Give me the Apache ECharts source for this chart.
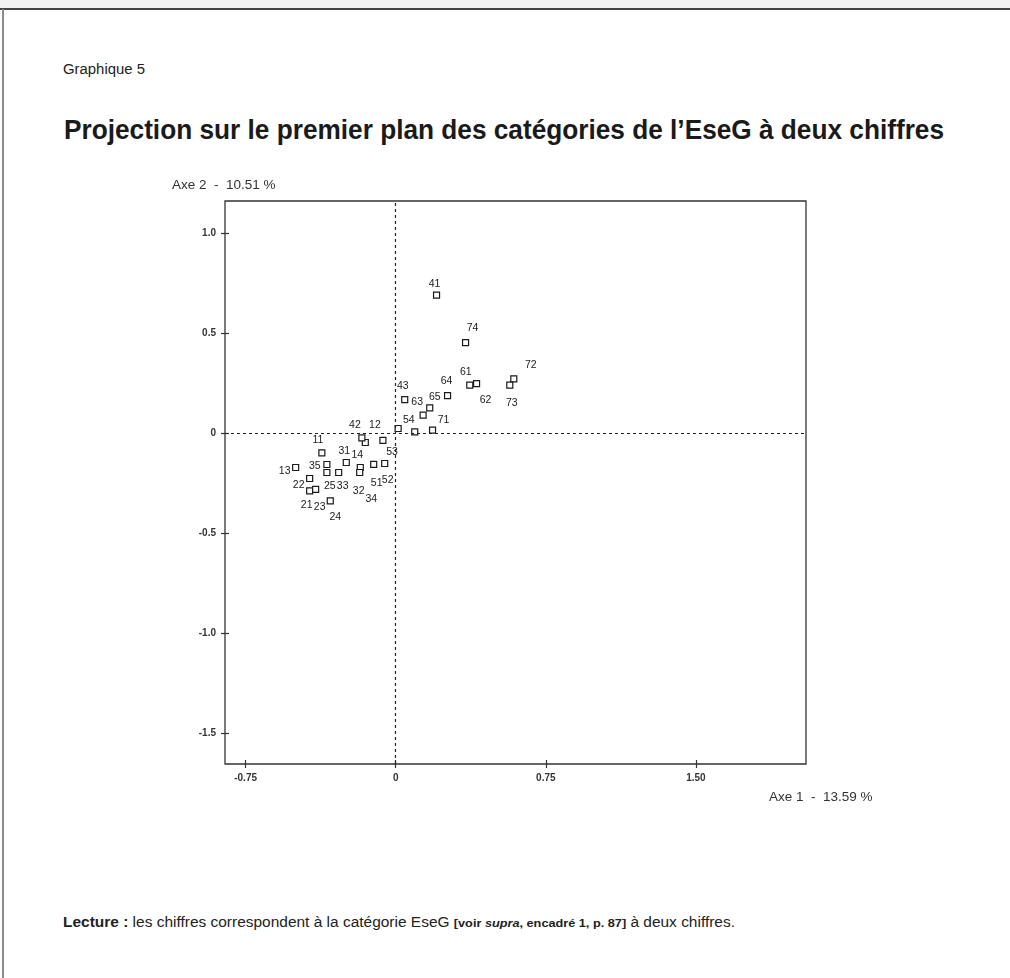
<!DOCTYPE html>
<html>
<head>
<meta charset="utf-8">
<script src="https://cdn.jsdelivr.net/npm/echarts@6/dist/echarts.min.js"></script>
<style>
html,body{margin:0;padding:0;background:#fff;width:1010px;height:978px;overflow:hidden;}
#band{position:absolute;left:0;top:0;width:1010px;height:8px;background:#f3f3f3;}
#topline{position:absolute;left:0;top:8px;width:1010px;height:2px;background:#444;}
#leftline{position:absolute;left:2px;top:9px;width:2px;height:969px;background:#8a8a8a;}
.narrow{font-family:"Liberation Sans",Arial,sans-serif;white-space:nowrap;line-height:1;position:absolute;transform-origin:0 50%;}
#kicker{left:63px;top:62px;font-size:14px;color:#222;}
#title{left:64px;top:116px;font-size:28px;font-weight:bold;color:#1a1a1a;}
#note{left:63px;top:915px;font-size:14px;color:#222;}
#note .br{font-size:11.5px;font-weight:bold;}
#chart{position:absolute;left:0;top:0;width:1010px;height:978px;}
</style>
</head>
<body>
<div id="band"></div>
<div id="topline"></div>
<div id="leftline"></div>
<div id="kicker" class="narrow">Graphique 5</div>
<div id="title" class="narrow">Projection sur le premier plan des catégories de l’EseG à deux chiffres</div>
<div id="note" class="narrow"><b>Lecture :</b> les chiffres correspondent à la catégorie EseG <span class="br">[voir <i>supra</i>, encadré 1, p. 87]</span> à deux chiffres.</div>
<div id="chart"></div>
<script>
// ---- data ----
const categories = ['11','12','13','14','21','22','23','24','25','31','32','33','34','35','41','42','43','51','52','53','54','61','62','63','64','65','71','72','73','74'];
const axe1 = [-0.369,-0.064,-0.500,-0.177,-0.430,-0.430,-0.400,-0.327,-0.344,-0.247,-0.180,-0.285,-0.152,-0.344,0.204,-0.169,0.045,-0.110,-0.055,0.012,0.095,0.370,0.404,0.137,0.259,0.170,0.184,0.590,0.570,0.349];
const axe2 = [-0.097,-0.034,-0.170,-0.170,-0.287,-0.225,-0.279,-0.337,-0.195,-0.145,-0.195,-0.195,-0.045,-0.155,0.692,-0.022,0.170,-0.154,-0.150,0.025,0.008,0.242,0.250,0.092,0.190,0.128,0.017,0.273,0.242,0.455];
const xTickValues = [-0.75, 0, 0.75, 1.5];
const xTickLabels = ['-0.75', '0', '0.75', '1.50'];
const yTickValues = [-1.5, -1, -0.5, 0, 0.5, 1];
const yTickLabels = ['-1.5', '-1.0', '-0.5', '0', '0.5', '1.0'];
const axisNameX = 'Axe 1  -  13.59 %';
const axisNameY = 'Axe 2  -  10.51 %';

// ---- label placement (style only) ----
const labelOffsets = {
  '11':[-4,-13],'12':[-8,-15],'13':[-11,4],'14':[-3,-12],'21':[-3,14],'22':[-11,7],'23':[4,18],'24':[5,16],'25':[3,14],
  '31':[-2,-11],'32':[-1,19],'33':[4,14],'34':[6,57],'35':[-12,2],'41':[-2,-11],'42':[-7,-13],'43':[-2,-13],
  '51':[3,19],'52':[3,17],'53':[-6,24],'54':[-6,-12],'61':[-4,-13],'62':[9,17],'63':[-6,-13],'64':[-1,-14],'65':[5,-11],
  '71':[11,-10],'72':[17,-14],'73':[2,18],'74':[7,-14]
};

function fit(id, target){
  const el = document.getElementById(id);
  const w = el.getBoundingClientRect().width;
  if (w > 0) el.style.transform = 'scaleX(' + (target / w) + ')';
}
fit('kicker', 82); fit('title', 880); fit('note', 672);

function pick(vals, labels, v){
  for (let i = 0; i < vals.length; i++) if (Math.abs(vals[i] - v) < 1e-9) return labels[i];
  return '';
}

const font = '"Liberation Sans", Arial, sans-serif';
const xMin = -0.853, xMax = 2.05, yMin = -1.653, yMax = 1.163;
const tickColor = '#333';
const noLine = {show:false, onZero:false};

const chart = echarts.init(document.getElementById('chart'), null, {renderer:'canvas'});
chart.setOption({
  animation: false,
  backgroundColor: 'transparent',
  grid: {left:225, top:201, width:581, height:563, show:true, borderColor:'#333', borderWidth:1.3, backgroundColor:'transparent', containLabel:false},
  xAxis: [
    {type:'value', min:xMin, max:xMax, position:'bottom',
     axisLine:noLine, splitLine:{show:false},
     axisTick:{show:true, length:4, customValues:xTickValues, lineStyle:{color:tickColor, width:1.2}},
     axisLabel:{show:true, customValues:xTickValues, margin:9, fontSize:10, fontWeight:'bold', color:'#333', fontFamily:font,
       formatter: v => pick(xTickValues, xTickLabels, v)}},
    {type:'value', min:xMin, max:xMax, position:'bottom', offset:0,
     axisLine:noLine, splitLine:{show:false},
     axisTick:{show:true, inside:true, length:4, customValues:xTickValues, lineStyle:{color:tickColor, width:1.2}},
     axisLabel:{show:false}}
  ],
  yAxis: [
    {type:'value', min:yMin, max:yMax, position:'left',
     axisLine:noLine, splitLine:{show:false},
     axisTick:{show:true, length:4, customValues:yTickValues, lineStyle:{color:tickColor, width:1.2}},
     axisLabel:{show:true, customValues:yTickValues, margin:9, fontSize:10, fontWeight:'bold', color:'#333', fontFamily:font,
       formatter: v => pick(yTickValues, yTickLabels, v)}},
    {type:'value', min:yMin, max:yMax, position:'left', offset:0,
     axisLine:noLine, splitLine:{show:false},
     axisTick:{show:true, inside:true, length:4, customValues:yTickValues, lineStyle:{color:tickColor, width:1.2}},
     axisLabel:{show:false}}
  ],
  graphic: [
    {type:'text', left:172, top:178, style:{text:axisNameY, font:'13.5px ' + font, fill:'#333'}},
    {type:'text', left:769, top:790, style:{text:axisNameX, font:'13.5px ' + font, fill:'#333'}}
  ],
  series: [{
    type:'scatter',
    xAxisIndex:0, yAxisIndex:0,
    symbol:'rect', symbolSize:6,
    itemStyle:{color:'#fff', borderColor:'#1a1a1a', borderWidth:1.2, opacity:1},
    label:{show:true, position:'inside', formatter:'{b}', fontSize:10.5, color:'#1a1a1a', fontFamily:font},
    data: categories.map((c, i) => ({name:c, value:[axe1[i], axe2[i]], label:{offset:labelOffsets[c]}})),
    markLine:{
      silent:true, symbol:['none','none'], label:{show:false},
      lineStyle:{type:[3,3], color:'#222', width:1.2},
      data:[{xAxis:0}, {yAxis:0}]
    },
    z:3
  }]
});
</script>
</body>
</html>
